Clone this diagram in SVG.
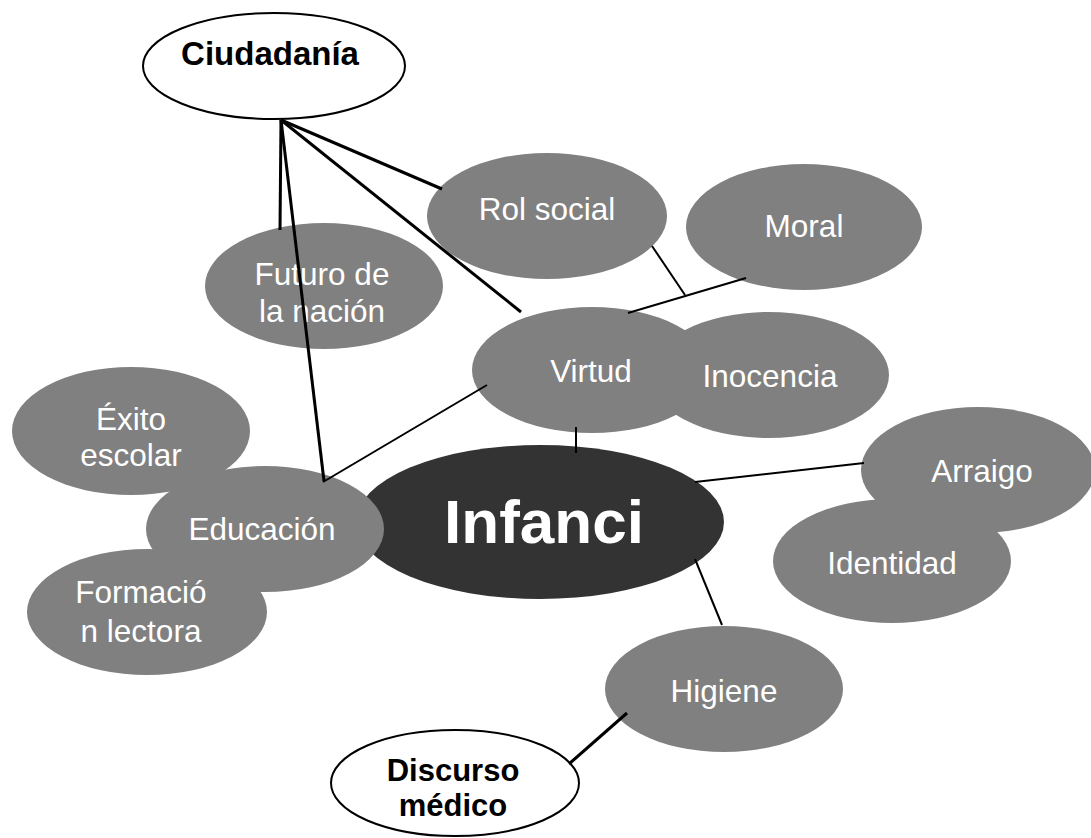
<svg xmlns="http://www.w3.org/2000/svg" width="1091" height="838" viewBox="0 0 1091 838">
<style>
.g{fill:#808080}
.w{fill:#fff;stroke:#000;stroke-width:2}
.d{fill:#333}
.t{font-family:"Liberation Sans",Arial,sans-serif;font-size:31.5px;fill:#fff;text-anchor:middle}
.b{font-family:"Liberation Sans",Arial,sans-serif;font-size:31px;font-weight:bold;fill:#000;text-anchor:middle}
.c{stroke:#000;fill:none}
</style>
<rect width="1091" height="838" fill="#fff"/>
<g id="ciudadania"><ellipse class="w" cx="274" cy="66" rx="131" ry="53"/><text class="b" x="270" y="65" style="font-size:33px">Ciudadanía</text></g>
<g id="rol-social"><ellipse class="g" cx="547" cy="216" rx="120" ry="63"/><text class="t" x="547" y="220">Rol social</text></g>
<g id="moral"><ellipse class="g" cx="804" cy="227" rx="118" ry="63"/><text class="t" x="804" y="237">Moral</text></g>
<g id="futuro"><ellipse class="g" cx="324" cy="286" rx="119" ry="63"/><text class="t" x="322" y="285">Futuro de</text><text class="t" x="322" y="322">la nación</text></g>
<g id="exito"><ellipse class="g" cx="131" cy="431" rx="119" ry="64"/><text class="t" x="131" y="430">Éxito</text><text class="t" x="131" y="466">escolar</text></g>
<g id="infancia"><ellipse class="d" cx="540" cy="522" rx="184" ry="77"/><text x="544" y="543" font-family="Liberation Sans,Arial,sans-serif" font-size="62" font-weight="bold" fill="#fff" text-anchor="middle">Infanci</text></g>
<g id="educacion"><ellipse class="g" cx="265" cy="529" rx="119" ry="63"/><text class="t" x="262" y="540">Educación</text></g>
<g id="formacion"><ellipse class="g" cx="147" cy="612" rx="120" ry="63"/><text class="t" x="141" y="603">Formació</text><text class="t" x="141" y="642">n lectora</text></g>
<g id="virtud"><ellipse class="g" cx="592" cy="370" rx="120" ry="63"/><text class="t" x="591" y="382">Virtud</text></g>
<g id="inocencia"><ellipse class="g" cx="769" cy="375" rx="120" ry="63"/><text class="t" x="770" y="387">Inocencia</text></g>
<g id="arraigo"><ellipse class="g" cx="978" cy="470" rx="117" ry="63"/><text class="t" x="982" y="482">Arraigo</text></g>
<g id="identidad"><ellipse class="g" cx="892" cy="561" rx="119" ry="62"/><text class="t" x="892" y="574">Identidad</text></g>
<g id="higiene"><ellipse class="g" cx="724" cy="689" rx="119" ry="63"/><text class="t" x="724" y="702">Higiene</text></g>
<g id="discurso"><ellipse class="w" cx="455" cy="783" rx="124" ry="53"/><text class="b" x="453" y="781">Discurso</text><text class="b" x="453" y="816">médico</text></g>
<g id="connectors">
<g class="c" stroke-width="3">
<line x1="281" y1="120" x2="280" y2="230"/>
<line x1="281" y1="120" x2="442" y2="189"/>
<line x1="281" y1="120" x2="521" y2="312"/>
<line x1="281" y1="120" x2="324" y2="481"/>
<line x1="627" y1="713" x2="569" y2="764"/>
</g>
<g class="c" stroke-width="2">
<line x1="487" y1="385" x2="323" y2="482"/>
<line x1="576" y1="427" x2="576" y2="453"/>
<line x1="652" y1="246" x2="685" y2="295"/>
<line x1="628" y1="313" x2="746" y2="278"/>
<line x1="695" y1="482" x2="864" y2="463"/>
<line x1="695" y1="559" x2="722" y2="625"/>
</g>
</g>
</svg>
